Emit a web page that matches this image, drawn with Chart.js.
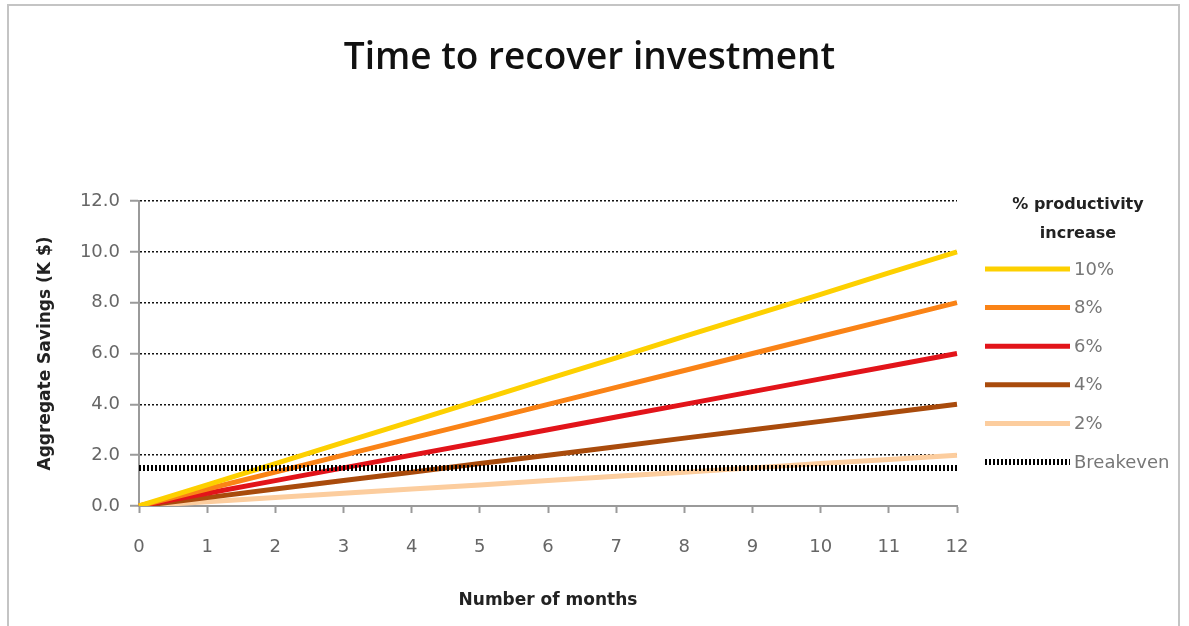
<!DOCTYPE html>
<html>
<head>
<meta charset="utf-8">
<script src="https://cdn.jsdelivr.net/npm/chart.js@4/dist/chart.umd.min.js"></script>
<style>
  html, body { margin: 0; padding: 0; background: #fff; }
  #frame { position: absolute; left: 7px; top: 4px; width: 1173px; height: 700px; border: 2px solid #c4c4c4; box-sizing: border-box; }
  #wrap { position: absolute; left: 0; top: 0; width: 1189px; height: 626px; }
</style>
</head>
<body>
<div id="frame"></div>
<div id="wrap"><canvas id="c" width="1189" height="626"></canvas></div>
<script>
const months = ['0','1','2','3','4','5','6','7','8','9','10','11','12'];
const yTicks = [0, 2, 4, 6, 8, 10, 12];
const seriesLabels = ['10%', '8%', '6%', '4%', '2%', 'Breakeven'];
const pct10 = [0, 0.83, 1.67, 2.5, 3.33, 4.17, 5.0, 5.83, 6.67, 7.5, 8.33, 9.17, 10.0];
const pct8  = [0, 0.67, 1.33, 2.0, 2.67, 3.33, 4.0, 4.67, 5.33, 6.0, 6.67, 7.33, 8.0];
const pct6  = [0, 0.5, 1.0, 1.5, 2.0, 2.5, 3.0, 3.5, 4.0, 4.5, 5.0, 5.5, 6.0];
const pct4  = [0, 0.33, 0.67, 1.0, 1.33, 1.67, 2.0, 2.33, 2.67, 3.0, 3.33, 3.67, 4.0];
const pct2  = [0, 0.17, 0.33, 0.5, 0.67, 0.83, 1.0, 1.17, 1.33, 1.5, 1.67, 1.83, 2.0];
const breakeven = [1.5, 1.5, 1.5, 1.5, 1.5, 1.5, 1.5, 1.5, 1.5, 1.5, 1.5, 1.5, 1.5];

const colors = ['#FDD000', '#FA8316', '#E2141A', '#A94B0C', '#FCCD9E', '#000000'];
const values = [pct10, pct8, pct6, pct4, pct2, breakeven];

const datasets = values.map((v, i) => ({
  label: seriesLabels[i],
  data: v,
  borderColor: colors[i],
  backgroundColor: colors[i],
  borderWidth: i === 5 ? 6 : 5,
  borderDash: i === 5 ? [2, 2] : [],
  pointRadius: 0,
  tension: 0,
  order: i === 5 ? -1 : 0,
  yAxisID: 'y'
}));

const legendPlugin = {
  id: 'customLegend',
  afterDraw(chart) {
    const ctx = chart.ctx;
    ctx.save();
    ctx.fillStyle = '#222';
    ctx.font = 'bold 16px "DejaVu Sans"';
    ctx.textAlign = 'center';
    ctx.textBaseline = 'middle';
    ctx.fillText('% productivity', 1078, 205);
    ctx.fillText('increase', 1078, 234);
    chart.data.datasets.forEach((ds, i) => {
      const y = 269 + i * 38.6;
      ctx.beginPath();
      ctx.strokeStyle = ds.borderColor;
      ctx.lineWidth = ds.borderWidth;
      ctx.setLineDash(ds.borderDash || []);
      ctx.moveTo(985, y);
      ctx.lineTo(1070, y);
      ctx.stroke();
      ctx.setLineDash([]);
      ctx.fillStyle = '#777';
      ctx.font = '18px "DejaVu Sans"';
      ctx.textAlign = 'left';
      ctx.fillText(ds.label, 1074, y + 1);
    });
    ctx.restore();
  }
};

new Chart(document.getElementById('c'), {
  type: 'line',
  data: { labels: months, datasets },
  plugins: [legendPlugin],
  options: {
    responsive: false,
    animation: false,
    layout: { padding: { left: 0, right: 10, top: 0, bottom: 0 } },
    plugins: {
      legend: { display: false },
      tooltip: { enabled: false },
      title: {
        display: true,
        text: 'Time to recover investment',
        color: '#111',
        font: { family: '"Open Sans"', size: 37, weight: '600' },
        padding: { top: 36, bottom: 120.6 }
      }
    },
    scales: {
      x: {
        type: 'category',
        offset: false,
        afterFit(s) { s.height = 120; },
        grid: { drawOnChartArea: false, drawTicks: true, tickLength: 7, tickColor: '#9a9a9a', tickWidth: 2 },
        border: { display: true, color: '#9a9a9a', width: 2 },
        ticks: { color: '#666', font: { family: '"DejaVu Sans"', size: 18 }, padding: 24, maxRotation: 0, autoSkip: false },
        title: { display: true, text: 'Number of months', color: '#222', font: { family: '"DejaVu Sans"', size: 17, weight: 'bold' }, padding: { top: 0, bottom: 15 } }
      },
      y: {
        position: 'left',
        min: 0, max: 12,
        afterFit(s) { s.width = 139; },
        afterBuildTicks(s) { s.ticks = yTicks.map(v => ({ value: v })); },
        grid: {
          color: c => (c.tick && c.tick.value === 0) ? 'rgba(0,0,0,0)' : '#111',
          lineWidth: 1.5,
          tickColor: '#9a9a9a', tickWidth: 2, tickLength: 9, tickBorderDash: []
        },
        border: { display: true, color: '#9a9a9a', width: 2, dash: [2, 2] },
        ticks: { color: '#666', font: { family: '"DejaVu Sans"', size: 18 }, padding: 10, callback: v => Number(v).toFixed(1) },
        title: { display: true, text: 'Aggregate Savings (K $)', color: '#222', font: { family: '"DejaVu Sans"', size: 17, weight: 'bold' }, padding: { top: 35, bottom: 0 } }
      },
      yR: {
        position: 'right',
        display: true,
        afterFit(s) { s.width = 222; },
        grid: { display: false, drawTicks: false },
        border: { display: false },
        ticks: { display: false }
      }
    }
  }
});
</script>
</body>
</html>
